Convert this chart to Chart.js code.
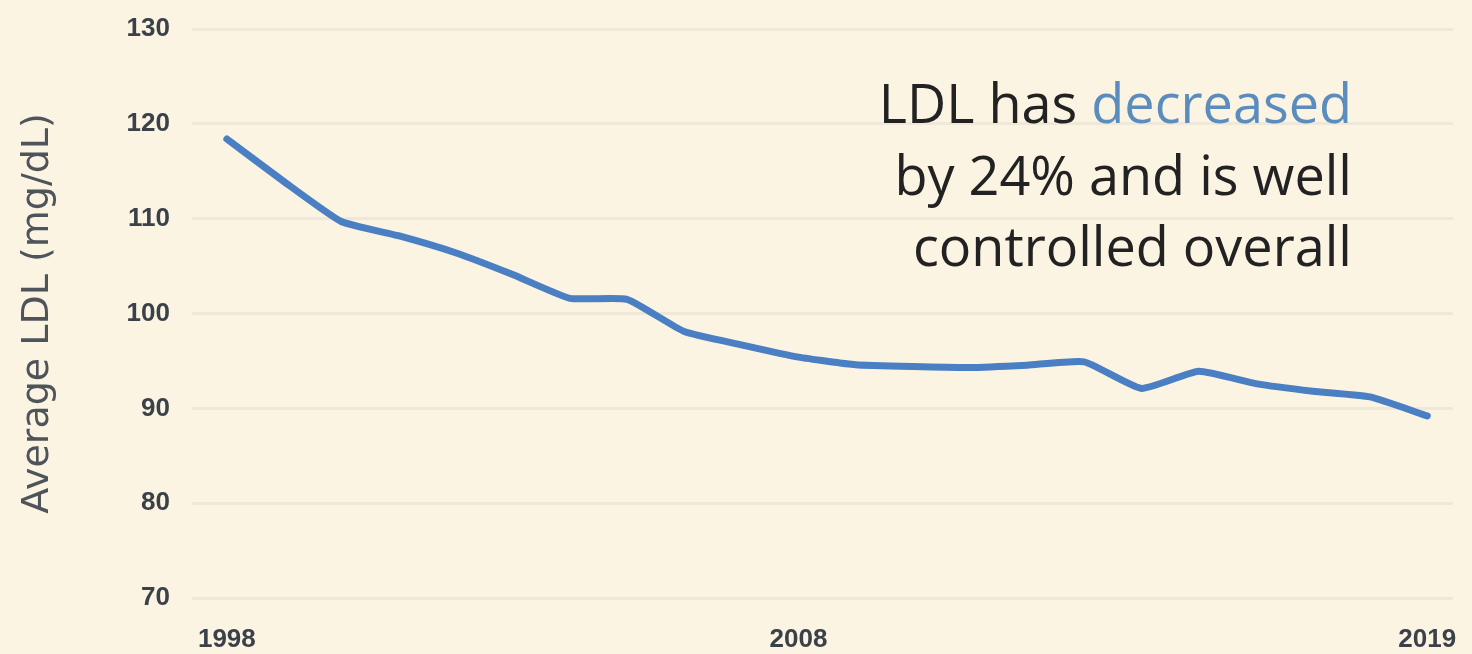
<!DOCTYPE html>
<html>
<head>
<meta charset="utf-8">
<script src="https://cdn.jsdelivr.net/npm/chart.js@4.4.1/dist/chart.umd.min.js"></script>
<style>
  html, body { margin: 0; padding: 0; background: #fbf4e3; }
  #wrap { position: relative; width: 1472px; height: 654px; }
  #c { position: absolute; left: 0; top: 0; }
  #note {
    position: absolute; right: 120px; top: 67px;
    font-family: "Open Sans", sans-serif; font-size: 54px;
    line-height: 71.5px; color: #222222; text-align: right; white-space: nowrap;
  }
  #note .hl { color: #5a8dbd; }
</style>
</head>
<body>
<div id="wrap">
  <canvas id="c" width="1472" height="654"></canvas>
  <div id="note">LDL has <span class="hl">decreased</span><br>by 24% and is well<br>controlled overall</div>
</div>
<script>
// Average LDL by year
const years = [1998, 1999, 2000, 2001, 2002, 2003, 2004, 2005, 2006, 2007, 2008,
               2009, 2010, 2011, 2012, 2013, 2014, 2015, 2016, 2017, 2018, 2019];
const avgLDL = [118.4, 113.9, 109.7, 108.2, 106.4, 104.1, 101.6, 101.5, 98.1, 96.7, 95.4,
                94.6, 94.4, 94.3, 94.55, 94.9, 92.1, 93.9, 92.6, 91.8, 91.2, 89.2];
const xTickYears = [1998, 2008, 2019];
const yTicks = [70, 80, 90, 100, 110, 120, 130];

const points = years.map((yr, i) => ({ x: yr, y: avgLDL[i] }));

const tickFont = { family: 'Liberation Sans', size: 26, weight: 'bold' };

new Chart(document.getElementById('c'), {
  type: 'line',
  data: {
    datasets: [{
      data: points,
      borderColor: '#4a7fc4',
      borderWidth: 7,
      pointRadius: 0,
      tension: 0.15,
      borderCapStyle: 'round',
      borderJoinStyle: 'round',
      fill: false
    }]
  },
  options: {
    responsive: false,
    animation: false,
    layout: { padding: { top: 29, right: 19, bottom: 3, left: 0 } },
    plugins: { legend: { display: false }, tooltip: { enabled: false } },
    scales: {
      x: {
        type: 'linear',
        min: 1997.39,
        max: 2019.45,
        afterBuildTicks: s => { s.ticks = xTickYears.map(v => ({ value: v })); },
        afterFit: s => { s.height = 53; s.paddingLeft = 0; s.paddingRight = 0; },
        ticks: {
          callback: v => String(v),
          font: tickFont,
          color: '#3b4149',
          padding: 26,
          maxRotation: 0,
          autoSkip: false
        },
        grid: { display: false, drawTicks: false },
        border: { display: false }
      },
      y: {
        min: 70,
        max: 130,
        afterBuildTicks: s => { s.ticks = yTicks.map(v => ({ value: v })); },
        afterFit: s => { s.width = 192; s.paddingTop = 0; s.paddingBottom = 0; },
        ticks: {
          font: tickFont,
          color: '#3b4149',
          padding: 22
        },
        grid: { color: '#efe8d8', lineWidth: 3, drawTicks: false },
        border: { display: false },
        title: {
          display: true,
          text: 'Average LDL (mg/dL)',
          font: { family: 'DejaVu Sans', size: 38 },
          color: '#4f545b',
          padding: { top: 15, bottom: 0 }
        }
      }
    }
  },
  plugins: [{
    id: 'bg',
    beforeDraw: ch => {
      const ctx = ch.ctx;
      ctx.save();
      ctx.fillStyle = '#fbf4e3';
      ctx.fillRect(0, 0, ch.width, ch.height);
      ctx.restore();
    }
  }]
});
</script>
</body>
</html>
